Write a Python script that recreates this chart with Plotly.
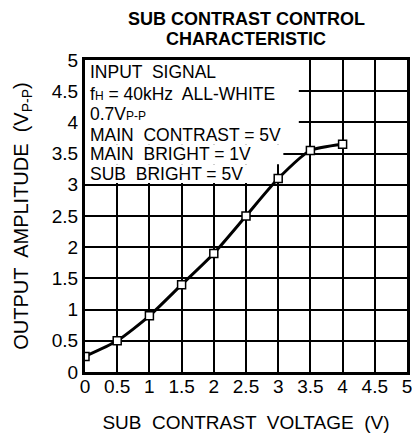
import plotly.graph_objects as go

# sub contrast voltage (V) vs output amplitude (Vp-p)
sub_contrast_v = [0, 0.5, 1, 1.5, 2, 2.5, 3, 3.5, 4]
output_vpp = [0.25, 0.5, 0.9, 1.4, 1.9, 2.5, 3.1, 3.55, 3.65]

tick_vals = [0, 0.5, 1, 1.5, 2, 2.5, 3, 3.5, 4, 4.5, 5]
tick_text = ["0", "0.5", "1", "1.5", "2", "2.5", "3", "3.5", "4", "4.5", "5"]

small = "<span style='font-size:12px'>{}</span>"
note_lines = [
    "INPUT  SIGNAL",
    "f" + small.format("H") + " = 40kHz  ALL-WHITE",
    "0.7V" + small.format("P-P"),
    "MAIN  CONTRAST = 5V",
    "MAIN  BRIGHT = 1V",
    "SUB  BRIGHT = 5V",
]
note_y = [4.81, 4.46, 4.14, 3.80, 3.49, 3.18]

title_lines = ["SUB CONTRAST CONTROL", "CHARACTERISTIC"]
title_y = [1.131, 1.067]

font = "Liberation Sans, Arial, sans-serif"

fig = go.Figure()
fig.add_trace(go.Scatter(
    x=sub_contrast_v,
    y=output_vpp,
    mode="lines+markers",
    line=dict(color="black", width=3, shape="spline", smoothing=0.6),
    marker=dict(symbol="square", size=8, color="white",
                line=dict(color="black", width=1.5)),
    showlegend=False,
))

# white patches hide the grid behind the notes (between grid and trace)
fig.add_shape(type="rect", x0=0, x1=3.32, y0=3.64, y1=5, layer="between",
              fillcolor="white", line_width=0)
fig.add_shape(type="rect", x0=0, x1=3.08, y0=3.33, y1=3.64, layer="between",
              fillcolor="white", line_width=0)
fig.add_shape(type="rect", x0=0, x1=2.9, y0=3.03, y1=3.33, layer="between",
              fillcolor="white", line_width=0)

for txt, yy in zip(note_lines, note_y):
    fig.add_annotation(
        x=0.04, y=yy, xref="x", yref="y", text=txt,
        showarrow=False, xanchor="left", yanchor="middle",
        font=dict(family=font, size=17.5, color="black"),
    )

# two-line bold title
for txt, yy in zip(title_lines, title_y):
    fig.add_annotation(
        x=0.5, y=yy, xref="paper", yref="paper", text="<b>" + txt + "</b>",
        showarrow=False, xanchor="center", yanchor="middle",
        font=dict(family=font, size=18, color="black"),
    )

axis_common = dict(
    range=[0, 5],
    tickvals=tick_vals,
    ticktext=tick_text,
    showgrid=True,
    gridcolor="black",
    gridwidth=2,
    showline=True,
    linecolor="black",
    linewidth=3,
    mirror=True,
    ticks="",
    zeroline=False,
    tickfont=dict(family=font, size=19, color="black"),
)

fig.update_xaxes(
    **axis_common,
    ticklabelstandoff=-5,
    title=dict(text="SUB  CONTRAST  VOLTAGE  (V)", standoff=20,
               font=dict(family=font, size=19, color="black")),
)
fig.update_yaxes(
    **axis_common,
    title=dict(text="OUTPUT  AMPLITUDE  (V<sub>P-P</sub>)", standoff=18,
               font=dict(family=font, size=20, color="black")),
)

fig.update_layout(
    width=412,
    height=430,
    margin=dict(l=77, r=8, t=52, b=66),
    paper_bgcolor="white",
    plot_bgcolor="white",
)

fig.write_html("out.html")
